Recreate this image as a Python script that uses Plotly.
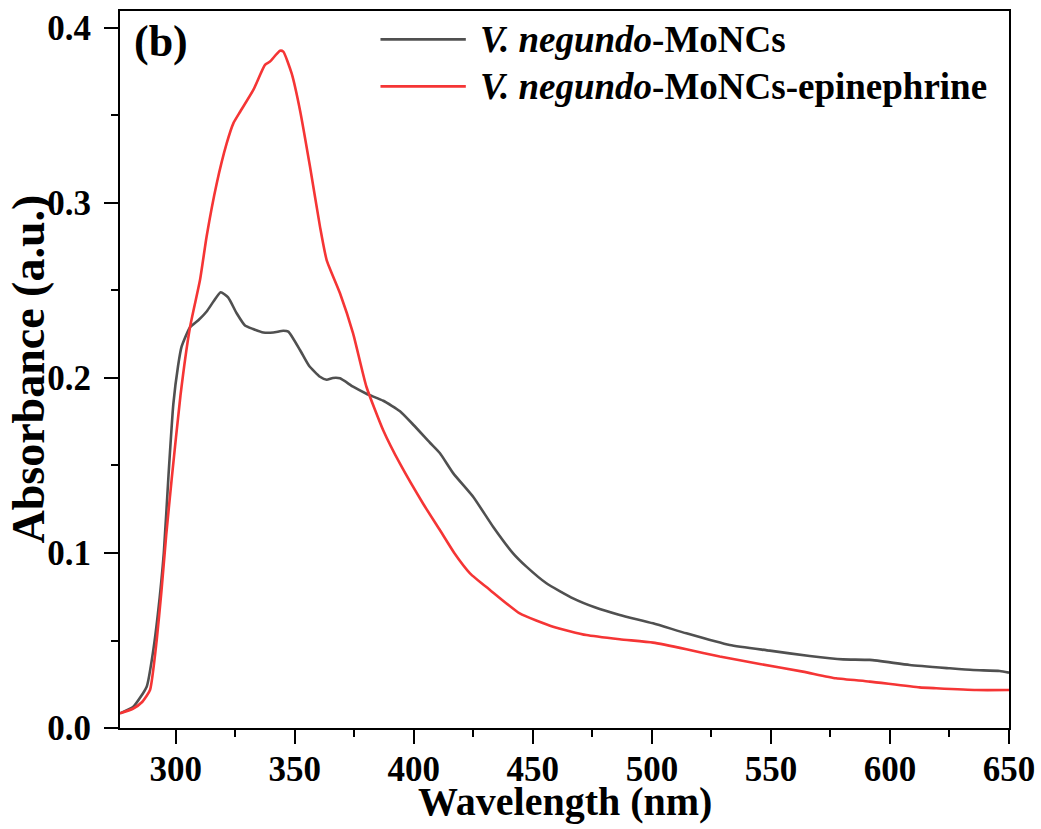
import plotly.graph_objects as go

# UV-vis absorbance spectra
wl_plain = [276.6, 282.2, 287.8, 290.6, 292.5, 295, 297, 299, 301, 302.5, 306, 309.5,
            313, 316, 318.9, 322, 325.6, 329.1, 332.5, 336.8, 341, 345.2, 347.3, 352.2,
            356, 360.6, 363.4, 366, 369, 374.5, 380.1, 387.2, 394.2, 400, 406.8, 411,
            416.6, 425, 433.3, 441.7, 447.3, 455.7, 466.9, 476, 486.5, 500.5, 514.5,
            532.7, 549.5, 566.3, 580.3, 591.5, 608.3, 625.1, 634.9, 646.1, 650]
abs_plain = [0.0084, 0.0122, 0.0236, 0.0446, 0.065, 0.100, 0.145, 0.185, 0.207, 0.218,
             0.229, 0.233, 0.238, 0.244, 0.249, 0.246, 0.237, 0.230, 0.228, 0.226, 0.226,
             0.227, 0.2265, 0.216, 0.207, 0.2007, 0.199, 0.200, 0.1998, 0.195, 0.191,
             0.187, 0.181, 0.173, 0.163, 0.157, 0.1455, 0.132, 0.115, 0.0998, 0.0922,
             0.0827, 0.0741, 0.069, 0.0646, 0.0598, 0.0541, 0.0474, 0.0442, 0.0411,
             0.0392, 0.0389, 0.036, 0.0341, 0.0331, 0.0326, 0.0316]

wl_epi = [276.6, 282, 286, 289.2, 292, 294, 296, 298.3, 302, 306, 310.2, 313, 317.2,
          321.4, 324.2, 327, 332.6, 337.5, 339.6, 343.8, 345.2, 348.7, 352.2, 356.4,
          360.6, 363.4, 369, 374.5, 380.1, 387.2, 394.2, 404, 411, 417, 423.6, 432,
          444.5, 458.5, 472.5, 486.5, 500.5, 514.5, 528.5, 545.3, 563.4, 577.4, 591.5,
          612.4, 619.4, 636.3, 650]
abs_epi = [0.0084, 0.011, 0.015, 0.0217, 0.05, 0.078, 0.11, 0.142, 0.19, 0.229, 0.256,
           0.281, 0.311, 0.334, 0.3455, 0.352, 0.3646, 0.3789, 0.3808, 0.387, 0.3865,
           0.374, 0.353, 0.3208, 0.2865, 0.2674, 0.2484, 0.2255, 0.195, 0.170, 0.151,
           0.128, 0.113, 0.100, 0.0884, 0.0789, 0.0655, 0.0579, 0.0531, 0.0507, 0.0488,
           0.045, 0.0408, 0.0366, 0.0322, 0.0284, 0.0265, 0.0232, 0.0227, 0.0217, 0.0217]

series_names = ["<i>V. negundo</i>-MoNCs", "<i>V. negundo</i>-MoNCs-epinephrine"]
series_colors = ["#505050", "#f53535"]

x_ticks = [300, 350, 400, 450, 500, 550, 600, 650]
y_ticks = [0.0, 0.1, 0.2, 0.3, 0.4]

FONT = "Liberation Serif"

fig = go.Figure()
for wl, ab, name, col in [(wl_plain, abs_plain, series_names[0], series_colors[0]),
                          (wl_epi, abs_epi, series_names[1], series_colors[1])]:
    fig.add_trace(go.Scatter(x=wl, y=ab, mode="lines", name=name,
                             line=dict(color=col, width=2.6, shape="spline", smoothing=0.5),
                             showlegend=False))

axis_common = dict(showline=True, linewidth=2, linecolor="black", mirror=True,
                   ticks="outside", ticklen=14, tickwidth=2, tickcolor="black",
                   showgrid=False, zeroline=False, automargin=False,
                   tickfont=dict(family=FONT, size=35, color="black", weight="bold"))

fig.update_xaxes(range=[276.6, 650], tickvals=x_ticks, ticktext=[str(v) for v in x_ticks],
                 minor=dict(ticks="outside", ticklen=7, tickwidth=2, tickcolor="black",
                            tick0=275, dtick=25),
                 ticklabelstandoff=-5, **axis_common)
fig.update_yaxes(range=[0, 0.4097], tickvals=y_ticks, ticktext=[f"{v:.1f}" for v in y_ticks],
                 minor=dict(ticks="outside", ticklen=7, tickwidth=2, tickcolor="black",
                            tick0=0.05, dtick=0.1),
                 ticklabelstandoff=6, **axis_common)

# axis titles
fig.add_annotation(text="<b>Wavelength (nm)</b>", xref="paper", yref="paper",
                   x=0.5, y=0, yshift=-73, xanchor="center", yanchor="middle",
                   showarrow=False, font=dict(family=FONT, size=40, color="black"))
fig.add_annotation(text="<b>Absorbance (a.u.)</b>", xref="paper", yref="paper",
                   x=0, y=0.5, xshift=-92, xanchor="center", yanchor="middle",
                   textangle=-90, showarrow=False,
                   font=dict(family=FONT, size=46, color="black"))

# panel label
fig.add_annotation(text="<b>(b)</b>", xref="paper", yref="paper", x=0.013, y=0.957,
                   xanchor="left", yanchor="middle", showarrow=False,
                   font=dict(family=FONT, size=44, color="black"))

# legend drawn by hand: line samples plus labels
legend_rows = [0.9603, 0.8948]
for yy, name, col in zip(legend_rows, series_names, series_colors):
    fig.add_shape(type="line", xref="paper", yref="paper", x0=0.293, x1=0.389,
                  y0=yy, y1=yy, line=dict(color=col, width=2.8))
    fig.add_annotation(text=f"<b>{name}</b>", xref="paper", yref="paper", x=0.403, y=yy,
                       xanchor="left", yanchor="middle", showarrow=False,
                       font=dict(family=FONT, size=37, color="black"))

fig.update_layout(width=1041, height=829,
                  margin=dict(l=120, r=32, t=11, b=101),
                  plot_bgcolor="white", paper_bgcolor="white")

fig.write_html("out.html")
